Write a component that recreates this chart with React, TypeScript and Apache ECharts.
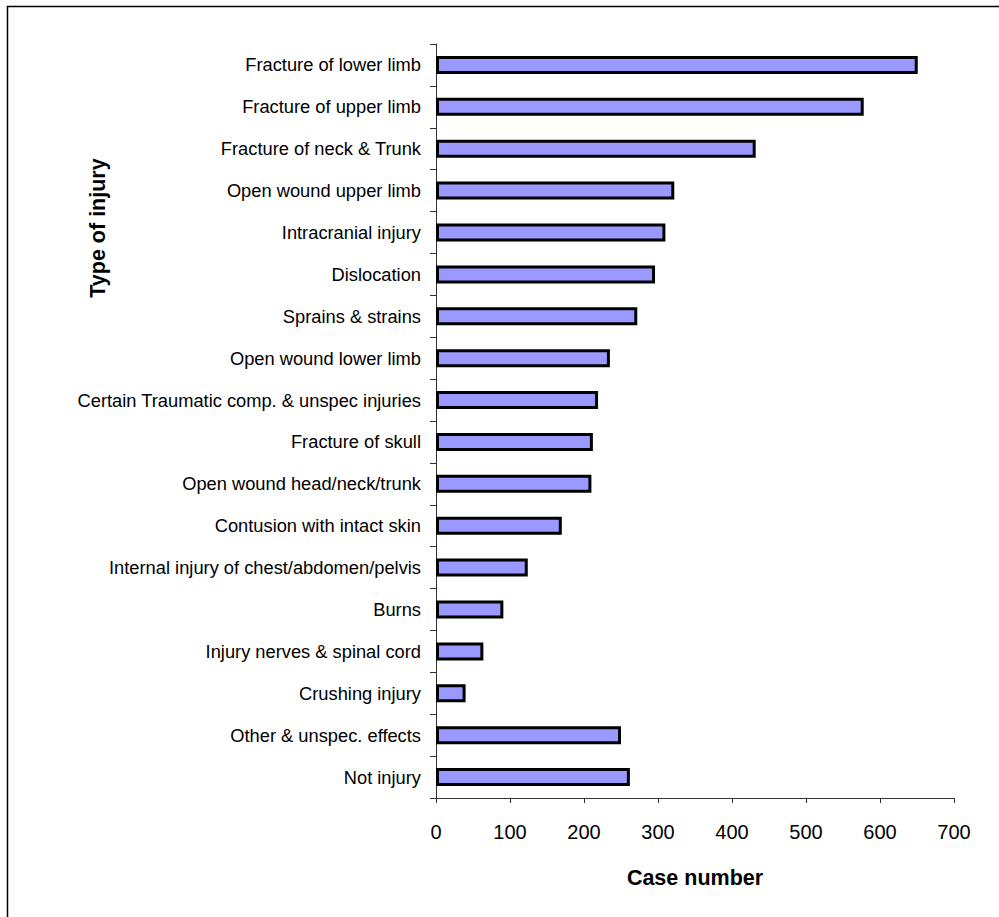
import React, { useEffect, useRef } from "react";
import * as echarts from "echarts";

const categories: string[] = [
  "Fracture of lower limb",
  "Fracture of upper limb",
  "Fracture of neck & Trunk",
  "Open wound upper limb",
  "Intracranial injury",
  "Dislocation",
  "Sprains & strains",
  "Open wound lower limb",
  "Certain Traumatic comp. & unspec injuries",
  "Fracture of skull",
  "Open wound head/neck/trunk",
  "Contusion with intact skin",
  "Internal injury of chest/abdomen/pelvis",
  "Burns",
  "Injury nerves & spinal cord",
  "Crushing injury",
  "Other & unspec. effects",
  "Not injury",
];

const caseNumbers: number[] = [
  651, 578, 432, 322, 310, 296, 272, 235, 219, 212, 210, 170, 124, 91, 64, 40, 250, 262,
];

const xTicks: number[] = [0, 100, 200, 300, 400, 500, 600, 700];

const xTitle = "Case number";
const yTitle = "Type of injury";

const FONT = "Arial, 'Liberation Sans', Helvetica, sans-serif";

export default function App() {
  const ref = useRef<HTMLDivElement>(null);
  useEffect(() => {
    if (!ref.current) return;
    const chart = echarts.init(ref.current, undefined, { renderer: "svg" });
    chart.setOption({
      animation: false,
      backgroundColor: "#ffffff",
      grid: { left: 436, right: 45, top: 44, bottom: 119, containLabel: false },
      xAxis: {
        type: "value",
        min: xTicks[0],
        max: xTicks[xTicks.length - 1],
        interval: 100,
        splitLine: { show: false },
        axisLine: { show: true, lineStyle: { color: "#333333", width: 1 } },
        axisTick: { show: true, length: 5, lineStyle: { color: "#333333" } },
        axisLabel: {
          color: "#000000",
          fontSize: 20,
          fontFamily: FONT,
          margin: 24,
        },
      },
      yAxis: {
        type: "category",
        data: categories,
        inverse: true,
        axisLine: { show: true, onZero: false, lineStyle: { color: "#333333", width: 1 } },
        axisTick: { show: true, length: 6, alignWithLabel: false, lineStyle: { color: "#333333" } },
        axisLabel: {
          color: "#000000",
          fontSize: 18.3,
          fontFamily: FONT,
          margin: 15,
          interval: 0,
        },
      },
      series: [
        {
          type: "bar",
          data: caseNumbers,
          barWidth: 18,
          itemStyle: {
            color: "#9999ff",
            borderColor: "#000000",
            borderWidth: 3,
          },
        },
      ],
      graphic: [
        {
          type: "rect",
          shape: { x: 7.5, y: 6.5, width: 1200, height: 1200 },
          style: { fill: "none", stroke: "#000000", lineWidth: 1.5 },
          silent: true,
        },
        {
          type: "text",
          x: 98,
          y: 228,
          rotation: Math.PI / 2,
          style: {
            text: yTitle,
            fontSize: 21.5,
            fontWeight: "bold",
            fontFamily: FONT,
            fill: "#000000",
            align: "center",
            verticalAlign: "middle",
          },
        },
        {
          type: "text",
          x: 695,
          y: 878,
          style: {
            text: xTitle,
            fontSize: 21.5,
            fontWeight: "bold",
            fontFamily: FONT,
            fill: "#000000",
            align: "center",
            verticalAlign: "middle",
          },
        },
      ],
    });
    return () => chart.dispose();
  }, []);
  return (
    <div
      ref={ref}
      style={{ position: "absolute", left: 0, top: 0, width: 999, height: 917 }}
    />
  );
}
